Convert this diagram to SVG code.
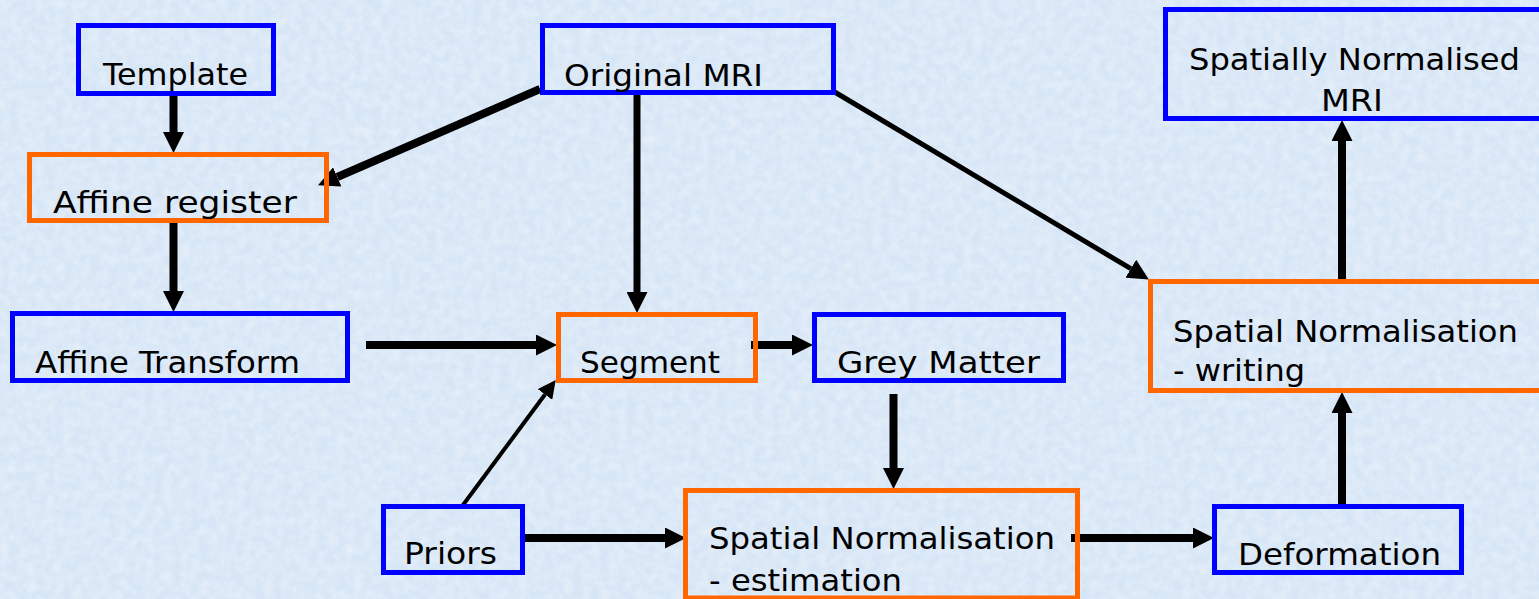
<svg xmlns="http://www.w3.org/2000/svg" width="1539" height="599" viewBox="0 0 1539 599">
<defs>
<filter id="tex" x="0" y="0" width="100%" height="100%">
<feTurbulence type="fractalNoise" baseFrequency="0.11" numOctaves="3" seed="4" result="n"/>
<feColorMatrix in="n" type="matrix" values="0 0 0 0 1  0 0 0 0 1  0 0 0 0 1  0 0 0 -1.4 0.95"/>
</filter>
<marker id="ah" markerUnits="userSpaceOnUse" markerWidth="21" markerHeight="21" viewBox="0 0 20 20" refX="0" refY="10" orient="auto">
<path d="M0,0 L20,10 L0,20 z" fill="#000"/>
</marker>
<marker id="ahs" markerUnits="userSpaceOnUse" markerWidth="18" markerHeight="18" viewBox="0 0 20 20" refX="0" refY="10" orient="auto">
<path d="M0,0 L20,10 L0,20 z" fill="#000"/>
</marker>
<style>
.blue{fill:none;stroke:#0000ff;stroke-width:5;}
.orange{fill:none;stroke:#ff6600;stroke-width:5;}
.t{font-family:"DejaVu Sans","Liberation Sans",sans-serif;font-size:31px;fill:#000;}
.c{stroke:#000;fill:none;}
</style>
</defs>
<rect x="0" y="0" width="1539" height="599" fill="#d7e6f6"/>
<rect x="0" y="0" width="1539" height="599" filter="url(#tex)" opacity="0.45"/>

<g id="connectors">
<line class="c" x1="173.5" y1="93" x2="173.5" y2="132" stroke-width="8" marker-end="url(#ah)"/>
<line class="c" x1="173.5" y1="218" x2="173.5" y2="291" stroke-width="8" marker-end="url(#ah)"/>
<line class="c" x1="540" y1="89" x2="337.3" y2="177" stroke-width="8" marker-end="url(#ah)"/>
<line class="c" x1="637" y1="93" x2="637" y2="292" stroke-width="7" marker-end="url(#ah)"/>
<line class="c" x1="833" y1="91" x2="1130.8" y2="268.7" stroke-width="5" marker-end="url(#ah)"/>
<line class="c" x1="366" y1="345" x2="536" y2="345" stroke-width="8" marker-end="url(#ah)"/>
<line class="c" x1="751" y1="345" x2="792" y2="345" stroke-width="8" marker-end="url(#ah)"/>
<line class="c" x1="463" y1="505" x2="545" y2="394.5" stroke-width="4" marker-end="url(#ahs)"/>
<line class="c" x1="893.5" y1="394" x2="893.5" y2="468" stroke-width="8" marker-end="url(#ah)"/>
<line class="c" x1="525" y1="538" x2="665" y2="538" stroke-width="8" marker-end="url(#ah)"/>
<line class="c" x1="1071" y1="538" x2="1193" y2="538" stroke-width="8" marker-end="url(#ah)"/>
<line class="c" x1="1342" y1="504" x2="1342" y2="413" stroke-width="8" marker-end="url(#ah)"/>
<line class="c" x1="1342" y1="281" x2="1342" y2="141" stroke-width="8" marker-end="url(#ah)"/>
</g>

<g id="template">
<rect class="blue" x="78.5" y="25.5" width="195" height="68"/>
<text class="t" x="103" y="85" textLength="145" lengthAdjust="spacingAndGlyphs">Template</text>
</g>
<g id="original-mri">
<rect class="blue" x="542.5" y="25.5" width="291" height="67"/>
<text class="t" x="564" y="86" textLength="199" lengthAdjust="spacingAndGlyphs">Original MRI</text>
</g>
<g id="affine-register">
<rect class="orange" x="29.5" y="154.5" width="297" height="66"/>
<text class="t" x="53" y="213" textLength="244" lengthAdjust="spacingAndGlyphs">Affine register</text>
</g>
<g id="affine-transform">
<rect class="blue" x="12.5" y="313.5" width="335" height="67"/>
<text class="t" x="35" y="373" textLength="265" lengthAdjust="spacingAndGlyphs">Affine Transform</text>
</g>
<g id="segment">
<rect class="orange" x="558.5" y="314.5" width="197" height="66"/>
<text class="t" x="580" y="373" textLength="140" lengthAdjust="spacingAndGlyphs">Segment</text>
</g>
<g id="grey-matter">
<rect class="blue" x="814.5" y="314.5" width="249" height="66"/>
<text class="t" x="837" y="373" textLength="203" lengthAdjust="spacingAndGlyphs">Grey Matter</text>
</g>
<g id="priors">
<rect class="blue" x="383.5" y="506.5" width="139" height="66"/>
<text class="t" x="404" y="564" textLength="93" lengthAdjust="spacingAndGlyphs">Priors</text>
</g>
<g id="sn-estimation">
<rect class="orange" x="685.5" y="490.5" width="392" height="107.5"/>
<text class="t" x="709" y="549" textLength="346" lengthAdjust="spacingAndGlyphs">Spatial Normalisation</text>
<text class="t" x="709" y="591" textLength="193" lengthAdjust="spacingAndGlyphs">- estimation</text>
</g>
<g id="deformation">
<rect class="blue" x="1214.5" y="506.5" width="247" height="66"/>
<text class="t" x="1238" y="565" textLength="203" lengthAdjust="spacingAndGlyphs">Deformation</text>
</g>
<g id="sn-writing">
<rect class="orange" x="1150.5" y="281.5" width="400" height="109"/>
<text class="t" x="1173" y="342" textLength="345" lengthAdjust="spacingAndGlyphs">Spatial Normalisation</text>
<text class="t" x="1173" y="381" textLength="132" lengthAdjust="spacingAndGlyphs">- writing</text>
</g>
<g id="spatially-normalised-mri">
<rect class="blue" x="1165.5" y="9.5" width="385" height="109"/>
<text class="t" x="1189" y="70" textLength="331" lengthAdjust="spacingAndGlyphs">Spatially Normalised</text>
<text class="t" x="1321" y="111" textLength="62" lengthAdjust="spacingAndGlyphs">MRI</text>
</g>
</svg>
